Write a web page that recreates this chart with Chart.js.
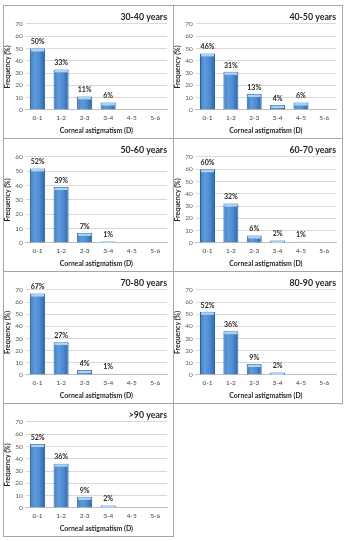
<!DOCTYPE html>
<html>
<head>
<meta charset="utf-8">
<script src="https://cdn.jsdelivr.net/npm/chart.js@4"></script>
<style>
  html, body { margin: 0; padding: 0; background: #ffffff; }
  body { width: 344px; height: 541px; position: relative; overflow: hidden; }
  .panel { position: absolute; box-sizing: border-box; border: 1px solid #a6a6a6; background: #fff; }
  .inner { position: absolute; left: 0; top: 0; right: 0; bottom: 0; }
</style>
</head>
<body>
<script>
// ---- data ----
const categories = ['0-1', '1-2', '2-3', '3-4', '4-5', '5-6'];
const groupTitles = ['30-40 years', '40-50 years', '50-60 years', '60-70 years', '70-80 years', '80-90 years', '>90 years'];
const freq30to40 = [50, 33, 11, 6, 0, 0];
const freq40to50 = [46, 31, 13, 4, 6, 0];
const freq50to60 = [52, 39, 7, 1, 0, 0];
const freq60to70 = [60, 32, 6, 2, 1, 0];
const freq70to80 = [67, 27, 4, 1, 0, 0];
const freq80to90 = [52, 36, 9, 2, 0, 0];
const freqOver90 = [52, 36, 9, 2, 0, 0];
const axisMax = [70, 70, 60, 70, 70, 70, 70];
const yTitle = 'Frequency (%)';
const xTitle = 'Corneal astigmatism (D)';

const seriesList = [freq30to40, freq40to50, freq50to60, freq60to70, freq70to80, freq80to90, freqOver90];

// ---- layout of panels ----
const panelBoxes = [
  [3, 5, 171, 134], [173, 5, 170, 134],
  [3, 138, 171, 134], [173, 138, 170, 134],
  [3, 271, 171, 133], [173, 271, 170, 133],
  [3, 403, 171, 134]
];

const FONT = 'Lato, "Open Sans", sans-serif';

const barDecor = {
  id: 'barDecor',
  afterDatasetsDraw(chart) {
    const ctx = chart.ctx;
    const meta = chart.getDatasetMeta(0);
    const values = chart.data.datasets[0].data;
    meta.data.forEach((bar, i) => {
      const v = values[i];
      if (!v) return;
      const p = bar.getProps(['x', 'y', 'width', 'base'], true);
      ctx.save();
      const h = Math.min(2.5, p.base - p.y);
      ctx.fillStyle = '#aad3f5';
      ctx.fillRect(p.x - p.width / 2 + 1, p.y + 0.5, p.width - 2, h);
      ctx.fillStyle = '#262626';
      ctx.font = 'bold 7px ' + FONT;
      ctx.textAlign = 'center';
      ctx.textBaseline = 'bottom';
      ctx.fillText(v + '%', p.x, p.y - 3);
      ctx.restore();
    });
  }
};

function barGradient(c) {
  const chart = c.chart;
  const xs = chart.scales.x;
  if (!chart.chartArea || !xs) return '#4f8fd2';
  const cx = xs.getPixelForValue(c.dataIndex);
  const w = (xs.width / categories.length) * 0.64;
  const g = chart.ctx.createLinearGradient(cx - w / 2, 0, cx + w / 2, 0);
  g.addColorStop(0, '#3a76bf');
  g.addColorStop(0.3, '#5e9cdb');
  g.addColorStop(0.65, '#4b8bd0');
  g.addColorStop(1, '#2d65aa');
  return g;
}

seriesList.forEach((series, k) => {
  const [left, top, w, h] = panelBoxes[k];
  const div = document.createElement('div');
  div.className = 'panel';
  div.style.left = left + 'px';
  div.style.top = top + 'px';
  div.style.width = w + 'px';
  div.style.height = h + 'px';
  const inner = document.createElement('div');
  inner.className = 'inner';
  const canvas = document.createElement('canvas');
  inner.appendChild(canvas);
  div.appendChild(inner);
  document.body.appendChild(div);

  new Chart(canvas, {
    type: 'bar',
    data: {
      labels: categories,
      datasets: [{
        data: series,
        backgroundColor: barGradient,
        borderColor: '#2a5d9c',
        borderWidth: { left: 1, right: 1, top: 1, bottom: 0 },
        barPercentage: 0.64,
        categoryPercentage: 1
      }]
    },
    options: {
      responsive: true,
      maintainAspectRatio: false,
      animation: false,
      devicePixelRatio: 1,
      layout: { padding: { left: 0, right: 6, top: 2, bottom: 3 } },
      plugins: {
        legend: { display: false },
        tooltip: { enabled: false },
        title: {
          display: true,
          text: groupTitles[k],
          align: 'end',
          color: '#262626',
          font: { family: FONT, size: 8.8, weight: 'bold' },
          padding: { top: 4, bottom: 1.4 }
        }
      },
      scales: {
        x: {
          grid: { display: false, drawTicks: false },
          border: { color: '#bfbfbf' },
          ticks: { color: '#404040', font: { family: FONT, size: 6.5 }, padding: 4, maxRotation: 0, autoSkip: false },
          title: { display: true, text: xTitle, color: '#262626', font: { family: FONT, size: 6.9, weight: 'bold' }, padding: { top: 1, bottom: 0 } }
        },
        y: {
          min: 0,
          max: axisMax[k],
          grid: { color: '#d9d9d9', drawTicks: false },
          border: { display: false },
          ticks: { stepSize: 10, color: '#595959', font: { family: FONT, size: 6.5 }, padding: 3, autoSkip: false },
          title: { display: true, text: yTitle, color: '#262626', font: { family: FONT, size: 6.9, weight: 'bold' }, padding: { top: 0, bottom: 0 } }
        }
      }
    },
    plugins: [barDecor]
  });
});
</script>
</body>
</html>
